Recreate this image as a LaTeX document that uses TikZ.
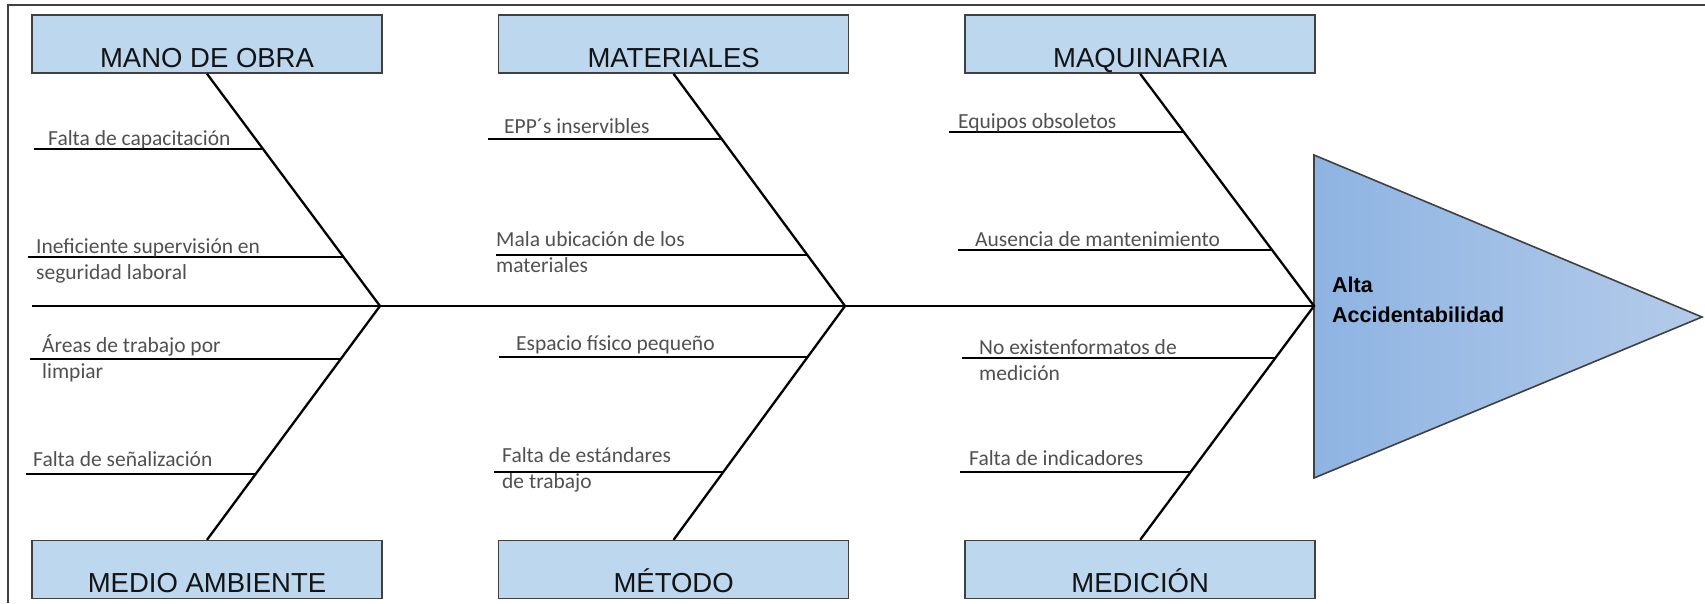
\documentclass[tikz,border=0pt]{standalone}
\usepackage{fontspec}
\setmainfont{Liberation Sans}
\newfontfamily\ribfont{Carlito}
\usetikzlibrary{positioning}

\definecolor{boxblue}{RGB}{189,215,238}
\definecolor{edgegray}{RGB}{64,64,64}
\definecolor{causetext}{RGB}{20,20,20}
\definecolor{ribgray}{RGB}{80,80,80}
\definecolor{headleft}{RGB}{142,180,226}
\definecolor{headright}{RGB}{180,203,234}

\begin{document}
\begin{tikzpicture}[x=1pt,y=-1pt,
    causebox/.style={draw=\EDGECOLOR,fill=\BOXCOLOR,line width=1.6pt,
      minimum width=350pt,minimum height=58pt,inner sep=0pt,
      text height=50pt,text depth=4pt,text=causetext,
      font=\fontsize{27.5}{30}\selectfont},
    bone/.style={line width=2.3pt,black},
    rib/.style={line width=2pt,black},
    ribtext/.style={anchor=base west,inner sep=0pt,align=left,text=\TEXTCOLOR,
      font=\ribfont\fontsize{21.5}{26}\selectfont}]

\def\BOXCOLOR{boxblue}
\def\EDGECOLOR{edgegray}
\def\TEXTCOLOR{ribgray}
	\useasboundingbox (0,0) rectangle (1705,603);
	\draw[\EDGECOLOR,line width=2pt] (8,603) -- (8,5) -- (1705,5);

	% causes
	\node[causebox] (mano) at (207,44) {MANO DE OBRA};
	\node[causebox,right=115pt of mano] (materiales) {MATERIALES};
	\node[causebox,right=115pt of materiales] (maquinaria) {MAQUINARIA};
	\node[causebox,below=466pt of mano] (medio) {MEDIO AMBIENTE};
	\node[causebox,below=466pt of materiales] (metodo) {MÉTODO};
	\node[causebox,below=466pt of maquinaria] (medicion) {MEDICIÓN};

	% effect
	\shade[left color=headleft,right color=headright,draw=\EDGECOLOR,line width=1.6pt]
		(1314,155) -- (1702,317) -- (1314,478) -- cycle;
	\node[anchor=base west,inner sep=0pt,align=left,
		font=\bfseries\fontsize{21.5}{30}\selectfont] (efecto) at (1332,322) {Alta\\Accidentabilidad};

	% spine and bones
	\coordinate (tail) at (32,306);
	\coordinate (j1) at (380,306);
	\coordinate (j2) at (845,306);
	\coordinate (head) at (1314,306);
	\draw[bone] (tail) -- (head);
	\draw[bone] (mano.south) -- (j1) -- (medio.north);
	\draw[bone] (materiales.south) -- (j2) -- (metodo.north);
	\draw[bone] (maquinaria.south) -- (head) -- (medicion.north);

	\path (mano.south) -- (j1) coordinate[pos=.322] (m1) coordinate[pos=.790] (m2);
	\path (j1) -- (medio.north) coordinate[pos=.227] (a1) coordinate[pos=.717] (a2);
	\path (materiales.south) -- (j2) coordinate[pos=.279] (t1) coordinate[pos=.781] (t2);
	\path (j2) -- (metodo.north) coordinate[pos=.219] (d1) coordinate[pos=.708] (d2);
	\path (maquinaria.south) -- (head) coordinate[pos=.249] (q1) coordinate[pos=.760] (q2);
	\path (head) -- (medicion.north) coordinate[pos=.223] (c1) coordinate[pos=.708] (c2);

	% ribs
	\draw[rib] (m1 -| 34,0) -- (m1);
	\draw[rib] (m2 -| 28,0) -- (m2);
	\draw[rib] (a1 -| 30,0) -- (a1);
	\draw[rib] (a2 -| 26,0) -- (a2);
	\draw[rib] (t1 -| 488,0) -- (t1);
	\draw[rib] (t2 -| 496,0) -- (t2);
	\draw[rib] (d1 -| 499,0) -- (d1);
	\draw[rib] (d2 -| 494,0) -- (d2);
	\draw[rib] (q1 -| 949,0) -- (q1);
	\draw[rib] (q2 -| 958,0) -- (q2);
	\draw[rib] (c1 -| 962,0) -- (c1);
	\draw[rib] (c2 -| 960,0) -- (c2);

	% rib labels (base = last line)
	\node[ribtext] (m1text) at (48,145) {Falta de capacitación};
	\node[ribtext] (m2text) at (36,279) {Ineficiente supervisión en\\seguridad laboral};
	\node[ribtext] (a1text) at (42,378) {Áreas de trabajo por\\limpiar};
	\node[ribtext] (a2text) at (33,466) {Falta de señalización};
	\node[ribtext] (t1text) at (504,133) {EPP´s inservibles};
	\node[ribtext] (t2text) at (496,272) {Mala ubicación de los\\materiales};
	\node[ribtext] (d1text) at (516,350) {Espacio físico pequeño};
	\node[ribtext] (d2text) at (502,488) {Falta de estándares\\de trabajo};
	\node[ribtext] (q1text) at (958,128) {Equipos obsoletos};
	\node[ribtext] (q2text) at (975,246) {Ausencia de mantenimiento};
	\node[ribtext] (c1text) at (979,380) {No existenformatos de\\medición};
	\node[ribtext] (c2text) at (969,465) {Falta de indicadores};

\end{tikzpicture}
\end{document}
